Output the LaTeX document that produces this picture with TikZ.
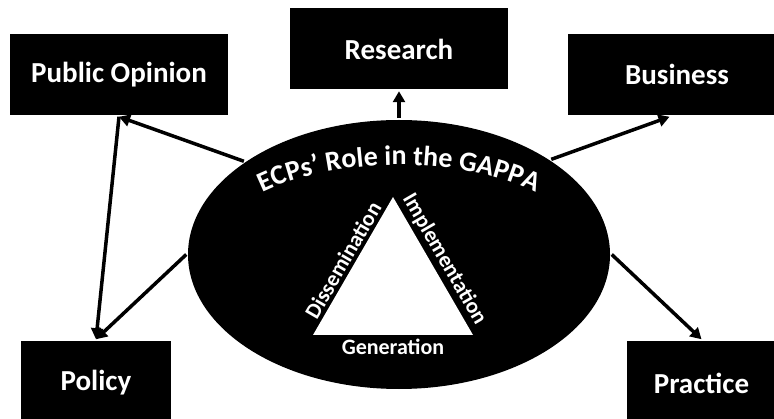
\documentclass[tikz,border=0pt]{standalone}
\usepackage{fontspec}
\setmainfont{Carlito}
\usetikzlibrary{shapes.geometric,arrows.meta,decorations.text}

\begin{document}
\begin{tikzpicture}[x=1pt,y=1pt,line width=3.5pt,>={Triangle[length=11pt,width=12pt]},
        box/.style={fill=black,text=white,font=\bfseries\fontsize{29}{29}\selectfont,
            minimum width=218pt,minimum height=81pt,inner sep=0pt},
        side/.style={text=white,font=\bfseries\fontsize{22}{22}\selectfont,inner sep=2pt}]
        \useasboundingbox (0,0) rectangle (774,418);
        \clip (0,0) rectangle (774,418);

        % the five boxes round the ellipse
        \node[box] (PO) at (119,343.5) {Public Opinion};
        \node[box] (R) at (399,369) {Research};
        \node[box] (B) at (677,343.5) {Business};
        \node[box,minimum width=150pt,minimum height=84pt] (P) at (96,35) {Policy};
        \node[box,minimum width=150pt,minimum height=84pt] (Pr) at (701.5,35) {Practice};

        \node[ellipse,fill=black,minimum width=422pt,minimum height=269pt,inner sep=0pt] (E) at (399,163.5) {};

        \draw[->] (E.north) -- (R.south);
        \draw[->] (E.149) -- (PO.south);
        \draw[->] (E.32) -- (B.260);
        \draw[->] (PO.south) -- (P.north);
        \draw[->] (E.west) -- (P.north);
        \draw[->] (E.east) -- (Pr.north);

        % title bent along the top of the ellipse
        \path[decorate,decoration={text along path,text align=center,
            text={|\color{white}\bfseries\fontsize{28}{28}\selectfont|ECPs' Role in the GAPPA}}]
            (E.center) ++(155:190 and 89.5) arc[start angle=155,end angle=25,x radius=190,y radius=89.5];

        % triangle
        \coordinate (A) at (393,221);
        \coordinate (L) at (313,83);
        \coordinate (Rt) at (473,83);
        \fill[white] (A) -- (L) -- (Rt) -- cycle;
        \path (L) -- node[side,sloped,above] {Dissemination} (A);
        \path (A) -- node[side,sloped,above] {Implementation} (Rt);
        \path (L) -- node[side,below] {Generation} (Rt);

\end{tikzpicture}
\end{document}
